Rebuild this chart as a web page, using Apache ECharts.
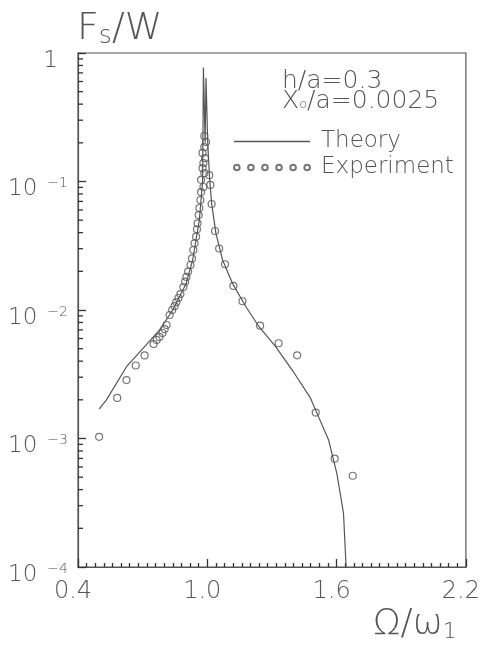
<!DOCTYPE html>
<html>
<head>
<meta charset="utf-8">
<script src="https://cdn.jsdelivr.net/npm/echarts@6/dist/echarts.min.js"></script>
<style>
  html, body { margin: 0; padding: 0; background: #fff; }
  #chart { width: 483px; height: 646px; }
</style>
</head>
<body>
<div id="chart"></div>
<script>
// theory curve
const theoryX = [0.498, 0.532, 0.625, 0.709, 0.778, 0.840, 0.902, 0.932, 0.963, 0.978, 0.980, 0.982, 0.990, 0.994, 1.002, 1.010,
  1.020, 1.040, 1.071, 1.117, 1.179, 1.240, 1.317, 1.394, 1.479, 1.502, 1.563, 1.601, 1.632, 1.644];
const theoryY = [1.69e-3, 2.00e-3, 3.62e-3, 5.18e-3, 6.98e-3, 1.00e-2, 1.61e-2, 2.45e-2, 5.01e-2, 0.10, 0.25, 0.77, 0.20, 0.64, 0.20, 0.11,
  0.0676, 0.0395, 0.0245, 0.0161, 0.0106, 7.41e-3, 5.18e-3, 3.41e-3, 2.06e-3, 1.67e-3, 9.73e-4, 5.36e-4, 2.62e-4, 1.0e-4];

// experiment points
const expX = [0.498, 0.582, 0.625, 0.668, 0.709, 0.751, 0.765, 0.778, 0.792, 0.802, 0.811, 0.825, 0.837, 0.848, 0.856, 0.866,
  0.875, 0.889, 0.897, 0.903, 0.911, 0.922, 0.929, 0.935, 0.941, 0.948, 0.952, 0.955, 0.960, 0.963, 0.968, 0.971,
  0.982, 0.971, 0.986, 0.978, 0.982, 0.989, 0.978, 0.986, 0.994, 0.986,
  1.009, 1.014, 1.020, 1.036, 1.055, 1.082, 1.121, 1.163, 1.245, 1.331, 1.417, 1.503, 1.591, 1.675];
const expY = [1.03e-3, 2.07e-3, 2.85e-3, 3.70e-3, 4.43e-3, 5.43e-3, 5.85e-3, 6.17e-3, 6.62e-3, 7.11e-3, 7.64e-3, 9.14e-3, 1.00e-2, 1.07e-2, 1.15e-2, 1.24e-2,
  1.33e-2, 1.51e-2, 1.66e-2, 1.81e-2, 1.99e-2, 2.24e-2, 2.52e-2, 2.93e-2, 3.30e-2, 3.72e-2, 4.25e-2, 4.73e-2, 5.48e-2, 6.22e-2, 7.18e-2, 8.28e-2,
  9.06e-2, 0.103, 0.116, 0.127, 0.139, 0.152, 0.167, 0.185, 0.203, 0.226,
  0.112, 0.094, 0.0668, 0.0412, 0.0301, 0.0227, 0.0154, 0.0117, 7.55e-3, 5.51e-3, 4.44e-3, 1.59e-3, 6.97e-4, 5.13e-4];

// axes
const xMin = 0.4, xMax = 2.2, xStep = 0.6;
const xTickLabels = ['0.4', '1.0', '1.6', '2.2'];
const yDecades = [1e-4, 1e-3, 1e-2, 1e-1, 1];
const yTickLabels = ['10{sup|−4}', '10{sup|−3}', '10{sup|−2}', '10{sup|−1}', '1{gap|}'];
const yMinorSteps = [2, 3, 4, 5, 6, 7, 8, 9];

const ink = '#555';
const tickInk = '#333';
const font = 'DejaVu Sans';
const wt = 200;

// 2..9 of every decade, drawn as short marks on the left axis
const yMinorTicks = [];
yDecades.slice(0, 4).forEach(d => yMinorSteps.forEach(s => yMinorTicks.push([xMin, d * s])));

const lineIcon = 'path://M0,0L76,0L76,1.3L0,1.3Z';
const circlesIcon = 'path://M0,3A3,3,0,1,0,6,3A3,3,0,1,0,0,3Z M15,3A3,3,0,1,0,21,3A3,3,0,1,0,15,3Z M30,3A3,3,0,1,0,36,3A3,3,0,1,0,30,3Z M45,3A3,3,0,1,0,51,3A3,3,0,1,0,45,3Z M60,3A3,3,0,1,0,66,3A3,3,0,1,0,60,3Z M75,3A3,3,0,1,0,81,3A3,3,0,1,0,75,3Z';

const txt = (size, extra) => Object.assign({ fontSize: size, fontWeight: wt, color: ink, fontFamily: font }, extra || {});

const chart = echarts.init(document.getElementById('chart'));
chart.setOption({
  backgroundColor: '#fff',
  animation: false,
  textStyle: { fontFamily: font, fontWeight: wt, color: ink },
  title: [
    {
      text: 'F{s|s}/W', left: 72, top: 5,
      textStyle: txt(38, { rich: { s: txt(25, { verticalAlign: 'bottom', padding: [14, 0, 0, 0] }) } })
    },
    {
      text: 'Ω/ω{s|1}', left: 368, top: 602,
      textStyle: txt(36, { rich: { s: txt(22, { verticalAlign: 'bottom', padding: [12, 0, 0, 0] }) } })
    },
    {
      text: 'h/a=0.3\nX{o|o}/a=0.0025', left: 277, top: 66,
      textStyle: txt(25, { lineHeight: 20, rich: { o: txt(13, { verticalAlign: 'bottom', lineHeight: 20, padding: [8, 0, 0, 0] }) } })
    }
  ],
  legend: {
    orient: 'vertical', left: 228, top: 125,
    itemWidth: 76, itemHeight: 7, itemGap: 3,
    textStyle: txt(23, { lineHeight: 22, padding: [0, 0, 0, 6] }),
    data: [
      { name: 'Theory', icon: lineIcon, itemStyle: { color: ink, borderWidth: 0 } },
      { name: 'Experiment', icon: circlesIcon }
    ]
  },
  grid: { left: 78, right: 15, top: 53, bottom: 79, show: true, borderColor: ink, borderWidth: 1.2 },
  xAxis: {
    type: 'value', min: xMin, max: xMax, interval: xStep,
    axisLine: { show: true, lineStyle: { color: ink, width: 1.2 } },
    axisTick: { show: true, inside: true, length: 8, lineStyle: { color: tickInk, width: 1.3 } },
    minorTick: { show: true, splitNumber: 15, length: 4, lineStyle: { color: tickInk, width: 1.3 } },
    splitLine: { show: false },
    axisLabel: txt(24, {
      margin: 13, padding: [0, 10, 0, 0],
      formatter: v => xTickLabels[Math.round((v - xMin) / xStep)] || ''
    })
  },
  yAxis: {
    type: 'log', logBase: 10, min: 1e-4, max: 1, splitNumber: 4,
    axisLine: { show: true, lineStyle: { color: ink, width: 1.2 } },
    axisTick: { show: true, inside: true, length: 8, lineStyle: { color: tickInk, width: 1.3 } },
    splitLine: { show: false },
    axisLabel: txt(23, {
      margin: 10, padding: [16, 0, 0, 0],
      formatter: v => yTickLabels[Math.round(Math.log10(v)) + 4] || '',
      rich: {
        sup: txt(14, { verticalAlign: 'top', padding: [0, 0, 12, 10] }),
        gap: { width: 10 }
      }
    })
  },
  series: [
    {
      name: 'Theory', type: 'line',
      data: theoryX.map((x, i) => [x, theoryY[i]]),
      showSymbol: false, symbol: 'none', smooth: false,
      lineStyle: { color: ink, width: 1.2 },
      itemStyle: { color: ink }
    },
    {
      name: 'Experiment', type: 'scatter',
      data: expX.map((x, i) => [x, expY[i]]),
      symbol: 'circle', symbolSize: 7,
      itemStyle: { color: 'rgba(255,255,255,0)', borderColor: ink, borderWidth: 1.2 }
    },
    {
      name: 'yMinor', type: 'custom', silent: true, clip: false,
      data: yMinorTicks,
      renderItem: (params, api) => {
        const p = api.coord([api.value(0), api.value(1)]);
        return { type: 'line', shape: { x1: p[0], y1: p[1], x2: p[0] + 5, y2: p[1] }, style: { stroke: tickInk, lineWidth: 1.3 } };
      }
    }
  ]
});
</script>
</body>
</html>
